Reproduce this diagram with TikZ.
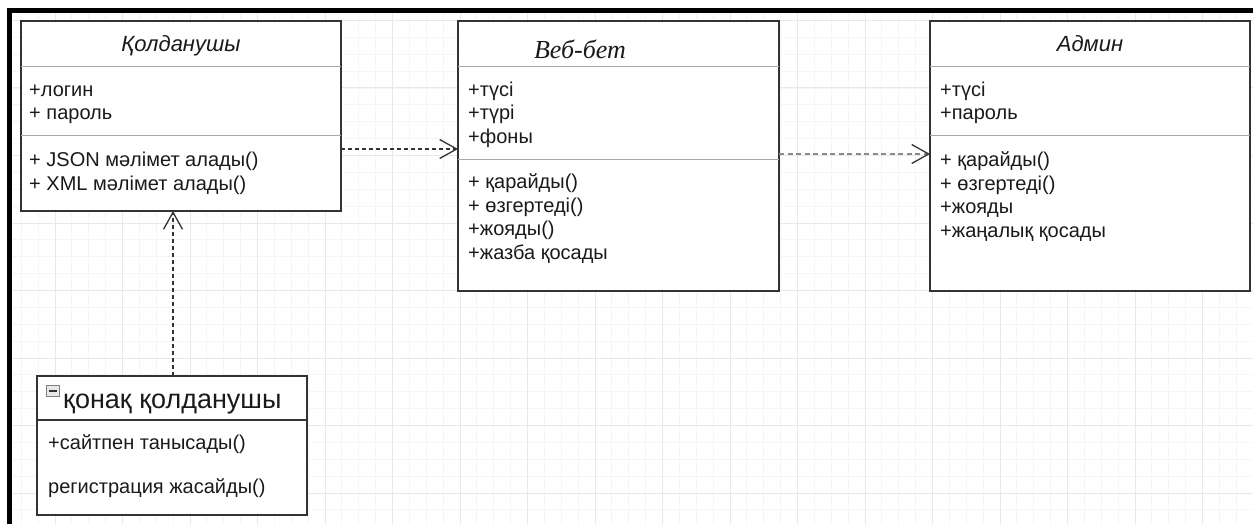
\documentclass[tikz,border=0pt]{standalone}
\usepackage{fontspec}
\setmainfont{Liberation Sans}
\newfontfamily\tnrfont{Liberation Serif}
\usetikzlibrary{arrows.meta}
\definecolor{boxc}{HTML}{333333}
\definecolor{sepc}{HTML}{A8A8A8}
\definecolor{txtc}{HTML}{1A1A1A}
\definecolor{gridmaj}{HTML}{E8E8E8}
\definecolor{gridmin}{HTML}{F5F5F5}
\definecolor{dashgrey}{HTML}{8A8A8A}
\newcommand\attrfont{\fontsize{20}{23}\selectfont}
\newcommand\ttlfont{\fontsize{22}{25}\selectfont\itshape}
\begin{document}
\begin{tikzpicture}[x=1pt,y=-1pt,
  box/.style={draw=boxc, line width=1.3pt, fill=white, anchor=north west, inner sep=0pt, outer sep=0pt},
  txt/.style={anchor=base west, inner sep=0pt, font=\attrfont, text=txtc},
  ttl/.style={anchor=base, inner sep=0pt, font=\ttlfont, text=txtc},
  sep/.style={draw=sepc, line width=1pt},
  sepdark/.style={draw=boxc, line width=1.3pt},
  tip/.style={-{Straight Barb[length=17pt,width=19pt,line width=1.3pt,color=boxc]}},
  depblack/.style={draw=boxc, line width=1.3pt, dash pattern=on 4pt off 3pt, tip},
  depgrey/.style={draw=dashgrey, line width=2.4pt, dash pattern=on 5pt off 3.5pt, tip}
]
\useasboundingbox (0,0) rectangle (1253,524);
\fill[white] (0,0) rectangle (1253,524);
% grid
\begin{scope}
\clip (12,13) rectangle (1253,524);
\foreach \i in {0,...,75} {
  \draw[gridmin, line width=0.8pt] ({4.375+16.875*\i},13) -- ({4.375+16.875*\i},524);
}
\foreach \i in {0,...,32} {
  \draw[gridmin, line width=0.8pt] (12,{3.625+16.875*\i}) -- (1253,{3.625+16.875*\i});
}
\foreach \i in {-1,...,18} {
  \draw[gridmaj, line width=1pt] ({55+67.5*\i},13) -- ({55+67.5*\i},524);
}
\foreach \i in {0,...,8} {
  \draw[gridmaj, line width=1pt] (12,{20.5+67.5*\i}) -- (1253,{20.5+67.5*\i});
}
\end{scope}
% frame (top and left edges)
\draw[black, line width=5pt] (1256,10.5) -- (9.5,10.5) -- (9.5,527);

% boxes
\node[box, minimum width=320pt, minimum height=190pt] (kol) at (21,21) {};
\node[box, minimum width=321pt, minimum height=270pt] (web) at (458,21) {};
\node[box, minimum width=320pt, minimum height=270pt] (adm) at (930,21) {};
\node[box, minimum width=270pt, minimum height=139pt] (gst) at (37,376) {};

% dividers
\draw[sep] (kol.west |- 0,67) -- (kol.east |- 0,67);
\draw[sep] (kol.west |- 0,136) -- (kol.east |- 0,136);
\draw[sep] (web.west |- 0,67) -- (web.east |- 0,67);
\draw[sep] (web.west |- 0,160) -- (web.east |- 0,160);
\draw[sep] (adm.west |- 0,67) -- (adm.east |- 0,67);
\draw[sep] (adm.west |- 0,136) -- (adm.east |- 0,136);
\draw[sepdark] (gst.west |- 0,420) -- (gst.east |- 0,420);

% Колданушы
\node[ttl] (kolT) at (181,52) {Қолданушы};
\node[txt] (kolA1) at (29,97) {+логин};
\node[txt] (kolA2) at (29,120) {+ пароль};
\node[txt] (kolM1) at (29,166) {+ JSON мәлімет алады()};
\node[txt] (kolM2) at (29,190) {+ XML мәлімет алады()};

% Веб-бет
\node[anchor=base, inner sep=0pt, text=txtc, font={\tnrfont\itshape\fontsize{26}{29}\selectfont}] (webT) at (580,59) {Веб-бет};
\node[txt] (webA1) at (468,97) {+түсі};
\node[txt] (webA2) at (468,120) {+түрі};
\node[txt] (webA3) at (468,143) {+фоны};
\node[txt] (webM1) at (468,188) {+ қарайды()};
\node[txt] (webM2) at (468,212) {+ өзгертеді()};
\node[txt] (webM3) at (468,235) {+жояды()};
\node[txt] (webM4) at (468,259) {+жазба қосады};

% Админ
\node[ttl] (admT) at (1090,52) {Админ};
\node[txt] (admA1) at (940,97) {+түсі};
\node[txt] (admA2) at (940,120) {+пароль};
\node[txt] (admM1) at (940,167) {+ қарайды()};
\node[txt] (admM2) at (940,190) {+ өзгертеді()};
\node[txt] (admM3) at (940,213) {+жояды};
\node[txt] (admM4) at (940,237) {+жаңалық қосады};

% қонақ қолданушы
\node[draw=gray, fill=gray!18, line width=0.8pt, minimum width=13pt, minimum height=11pt, inner sep=0pt, anchor=north west] (ico) at (46,385) {};
\draw[boxc, line width=1.4pt] ([xshift=3pt]ico.center -| ico.west) -- ([xshift=-3pt]ico.center -| ico.east);
\node[anchor=base west, inner sep=0pt, text=txtc, font={\fontsize{27}{30}\selectfont}] (gstT) at (63,408) {қонақ қолданушы};
\node[txt] (gstM1) at (48,449) {+сайтпен танысады()};
\node[txt] (gstM2) at (48,493) {регистрация жасайды()};

% connectors
\draw[depblack] (kol.east |- 0,149) -- (web.west |- 0,149);
\draw[depgrey] (web.east |- 0,154) -- (adm.west |- 0,154);
\draw[depblack, line width=1.2pt] (gst.north -| 173,0) -- (kol.south -| 173,0);
\end{tikzpicture}
\end{document}
